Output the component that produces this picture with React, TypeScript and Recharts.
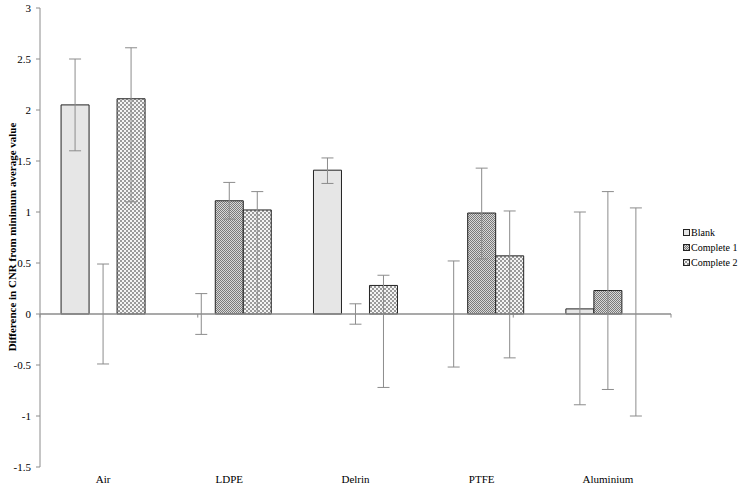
import {
  Bar,
  BarChart,
  Cell,
  ErrorBar,
  Label,
  Legend,
  ReferenceLine,
  XAxis,
  YAxis,
} from "recharts";

const categories = ["Air", "LDPE", "Delrin", "PTFE", "Aluminium"];
const blank = [2.05, 0, 1.41, 0, 0.05];
const blankErr = [[0.45, 0.45], [0.2, 0.2], [0.13, 0.12], [0.52, 0.52], [0.94, 0.95]];
const complete1 = [0, 1.11, 0, 0.99, 0.23];
const complete1Err = [[0.49, 0.49], [0.18, 0.18], [0.1, 0.1], [0.45, 0.44], [0.97, 0.97]];
const complete2 = [2.11, 1.02, 0.28, 0.57, 0];
const complete2Err = [[1.01, 0.5], [1.02, 0.18], [1.0, 0.1], [1.0, 0.44], [1.0, 1.04]];
const yTicks = [-1.5, -1, -0.5, 0, 0.5, 1, 1.5, 2, 2.5, 3];
const boundaries = [0, 1, 2, 3, 4, 5];

const FONT = "'Liberation Serif', 'Times New Roman', serif";
const AXIS = "#8c8c8c";

const chartData = categories.map((name, i) => ({
  name,
  blank: blank[i],
  blankErr: blankErr[i],
  c1: complete1[i],
  c1Err: complete1Err[i],
  c2: complete2[i],
  c2Err: complete2Err[i],
}));

const series = [
  { key: "blank", err: "blankErr", name: "Blank", fill: "#e6e6e6", values: blank },
  { key: "c1", err: "c1Err", name: "Complete 1", fill: "url(#patC1)", values: complete1 },
  { key: "c2", err: "c2Err", name: "Complete 2", fill: "url(#patC2)", values: complete2 },
];

function LegendBox() {
  return (
    <div style={{ fontFamily: FONT, fontSize: 10, color: "#000" }}>
      {series.map((it) => (
        <div key={it.name} style={{ display: "flex", alignItems: "center", height: 15 }}>
          <svg width={7} height={7} style={{ marginRight: 1 }}>
            <rect x={0.5} y={0.5} width={6} height={6} fill={it.fill} stroke="#222" />
          </svg>
          <span>{it.name}</span>
        </div>
      ))}
    </div>
  );
}

export default function App() {
  return (
    <div style={{ position: "absolute", left: 0, top: 0, width: 740, height: 487, background: "#fff" }}>
      <BarChart
        width={740}
        height={487}
        data={chartData}
        margin={{ top: 8, right: 69, left: 0, bottom: 0 }}
        barCategoryGap="16.7%"
        barGap={0}
      >
        <defs>
          <pattern id="patC1" width={2} height={2} patternUnits="userSpaceOnUse">
            <rect width={2} height={2} fill="#d8d8d8" />
            <rect width={1} height={1} fill="#7a7a7a" />
            <rect x={1} y={1} width={1} height={1} fill="#7a7a7a" />
          </pattern>
          <pattern id="patC2" width={4} height={4} patternUnits="userSpaceOnUse">
            <rect width={4} height={4} fill="#f4f4f4" />
            <rect width={2} height={2} fill="#9a9a9a" />
            <rect x={2} y={2} width={2} height={2} fill="#9a9a9a" />
          </pattern>
        </defs>
        <XAxis
          dataKey="name"
          axisLine={false}
          tickLine={false}
          height={20}
          tickMargin={2}
          tick={{ fill: "#000", fontSize: 11, fontFamily: FONT }}
        />
        <XAxis xAxisId="num" type="number" domain={[0, 5]} hide />
        <YAxis
          domain={[-1.5, 3]}
          ticks={yTicks}
          width={40}
          interval={0}
          axisLine={{ stroke: AXIS }}
          tickLine={{ stroke: AXIS }}
          tickSize={4}
          tickMargin={5}
          tick={{ fill: "#000", fontSize: 11, fontFamily: FONT }}
        >
          <Label
            content={() => (
              <text
                x={12}
                y={237}
                transform="rotate(-90 12 237)"
                textAnchor="middle"
                dominantBaseline="central"
                fontFamily={FONT}
                fontSize={11}
                fontWeight="bold"
                fill="#000"
              >
                Difference in CNR from minimum  average value
              </text>
            )}
          />
        </YAxis>
        <Legend
          content={() => <LegendBox />}
          layout="horizontal"
          verticalAlign="middle"
          align="center"
          wrapperStyle={{ position: "absolute", left: 683, top: 225, width: 57 }}
        />
        {series.map((s) => (
          <Bar
            key={s.key}
            dataKey={s.key}
            name={s.name}
            fill={s.fill}
            stroke="#222"
            strokeWidth={1}
            minPointSize={(v: number) => (v === 0 ? 1 : 0)}
            isAnimationActive={false}
          >
            {s.values.map((v, i) => (
              <Cell
                key={i}
                fill={v === 0 ? "none" : s.fill}
                stroke={v === 0 ? "none" : "#222"}
              />
            ))}
            <ErrorBar dataKey={s.err} width={6} stroke={AXIS} strokeWidth={1} direction="y" />
          </Bar>
        ))}
        <ReferenceLine y={0} stroke={AXIS} strokeWidth={1.5} />
        {boundaries.map((b) => (
          <ReferenceLine
            key={b}
            xAxisId="num"
            segment={[
              { x: b, y: 0 },
              { x: b, y: -0.035 },
            ]}
            stroke={AXIS}
          />
        ))}
      </BarChart>
    </div>
  );
}
